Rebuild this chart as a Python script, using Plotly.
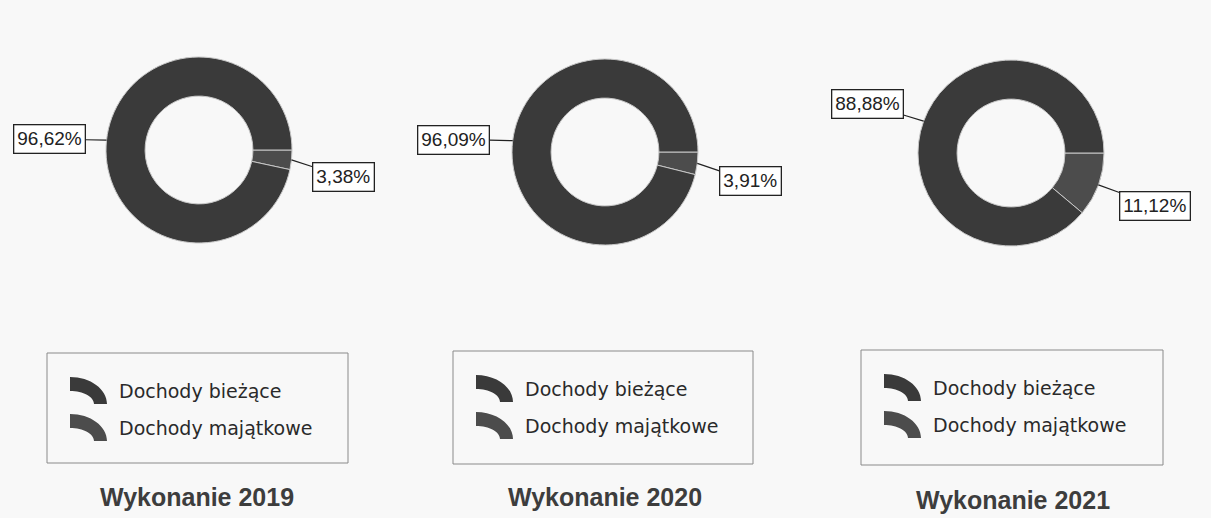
import math
import plotly.graph_objects as go

W, H = 1211, 518

categories = ["Dochody bieżące", "Dochody majątkowe"]
years = ["2019", "2020", "2021"]
biezace = [96.62, 96.09, 88.88]
majatkowe = [3.38, 3.91, 11.12]
label_biezace = ["96,62%", "96,09%", "88,88%"]
label_majatkowe = ["3,38%", "3,91%", "11,12%"]

colors = {"Dochody bieżące": "#3a3a3a", "Dochody majątkowe": "#4c4c4c"}
bg = "#f8f8f8"

# layout of the three donuts (pixel centres), label offsets, legend boxes
centres = [(199, 150), (605, 152), (1011, 153)]
radius = 93
label_offsets = [[(52, 17), (-57, -1)], [(53, 18), (-59, -1)], [(57, 21), (-56, -17)]]
legend_boxes = [(47, 353, 348, 463), (453, 351, 753, 464), (861, 350, 1163, 465)]
title_pos = [(197, 497), (605, 497), (1013, 500)]


def px(x, y):
    return x / W, (H - y) / H


fig = go.Figure()
annotations = []
shapes = []

for i, year in enumerate(years):
    cx, cy = centres[i]
    # small slice first so it sits just below 3 o'clock
    labels = [categories[1], categories[0]]
    vals = [majatkowe[i], biezace[i]]
    texts = [label_majatkowe[i], label_biezace[i]]
    x0, y0 = px(cx - radius, cy + radius)
    x1, y1 = px(cx + radius, cy - radius)
    fig.add_trace(go.Pie(
        labels=labels,
        values=vals,
        hole=0.58,
        sort=False,
        direction="clockwise",
        rotation=90,
        textinfo="none",
        hoverinfo="label+percent",
        showlegend=False,
        marker=dict(colors=[colors[c] for c in labels], line=dict(color="#c8c8c8", width=1)),
        domain=dict(x=[x0, x1], y=[y0, y1]),
    ))

    # boxed value labels with leader lines to the ring edge
    total = sum(vals)
    start = 90.0
    for j, v in enumerate(vals):
        mid = math.radians(start + v / total * 180)  # clockwise from 12 o'clock
        start += v / total * 360
        tx, ty = px(cx + radius * math.sin(mid), cy - radius * math.cos(mid))
        ax, ay = label_offsets[i][j]
        annotations.append(dict(
            x=tx, y=ty, xref="paper", yref="paper",
            text=texts[j], showarrow=True, arrowhead=0,
            arrowwidth=1.2, arrowcolor="#222222", ax=ax, ay=ay,
            font=dict(family="Liberation Sans, Arial", size=19, color="#222222"),
            bordercolor="#222222", borderwidth=1.3, borderpad=3, bgcolor="#ffffff",
        ))

    # legend box
    lx0, ly0, lx1, ly1 = legend_boxes[i]
    shapes.append(dict(
        type="rect", xref="paper", yref="paper",
        x0=px(lx0, ly0)[0], y0=px(lx0, ly0)[1], x1=px(lx1, ly1)[0], y1=px(lx1, ly1)[1],
        line=dict(color="#8a8a8a", width=1), fillcolor="rgba(0,0,0,0)",
    ))
    for j, cat in enumerate(categories):
        ix = lx0 + 23
        iy = ly0 + 24 + j * 37
        ro, ri = (37, 27), (24, 13)
        pts = [
            (ix, iy), (ix + 0.552 * ro[0], iy), (ix + ro[0], iy + ro[1] - 0.552 * ro[1]), (ix + ro[0], iy + ro[1]),
            (ix + ri[0], iy + ro[1]), (ix + ri[0], iy + ro[1] - 0.552 * ri[1]),
            (ix + 0.552 * ri[0], iy + ro[1] - ri[1]), (ix, iy + ro[1] - ri[1]),
        ]
        p = [px(*q) for q in pts]
        path = (f"M {p[0][0]},{p[0][1]} C {p[1][0]},{p[1][1]} {p[2][0]},{p[2][1]} {p[3][0]},{p[3][1]} "
                f"L {p[4][0]},{p[4][1]} C {p[5][0]},{p[5][1]} {p[6][0]},{p[6][1]} {p[7][0]},{p[7][1]} Z")
        shapes.append(dict(type="path", xref="paper", yref="paper", path=path,
                           fillcolor=colors[cat], line=dict(width=0)))
        tx, ty = px(ix + 47, iy + 14)
        annotations.append(dict(
            x=tx, y=ty, xref="paper", yref="paper", xanchor="left", yanchor="middle",
            text=cat, showarrow=False,
            font=dict(family="DejaVu Sans", size=19, color="#2a2a2a"),
        ))

    # title under each donut
    tx, ty = px(*title_pos[i])
    annotations.append(dict(
        x=tx, y=ty, xref="paper", yref="paper", xanchor="center", yanchor="middle",
        text=f"<b>Wykonanie {year}</b>", showarrow=False,
        font=dict(family="Liberation Sans, Arial", size=25, color="#3d3d3d"),
    ))

fig.update_layout(
    width=W, height=H,
    margin=dict(l=0, r=0, t=0, b=0),
    paper_bgcolor=bg,
    plot_bgcolor=bg,
    annotations=annotations,
    shapes=shapes,
)

fig.write_html("out.html", config={"displayModeBar": False},
               post_script="document.body.style.margin='0';")
